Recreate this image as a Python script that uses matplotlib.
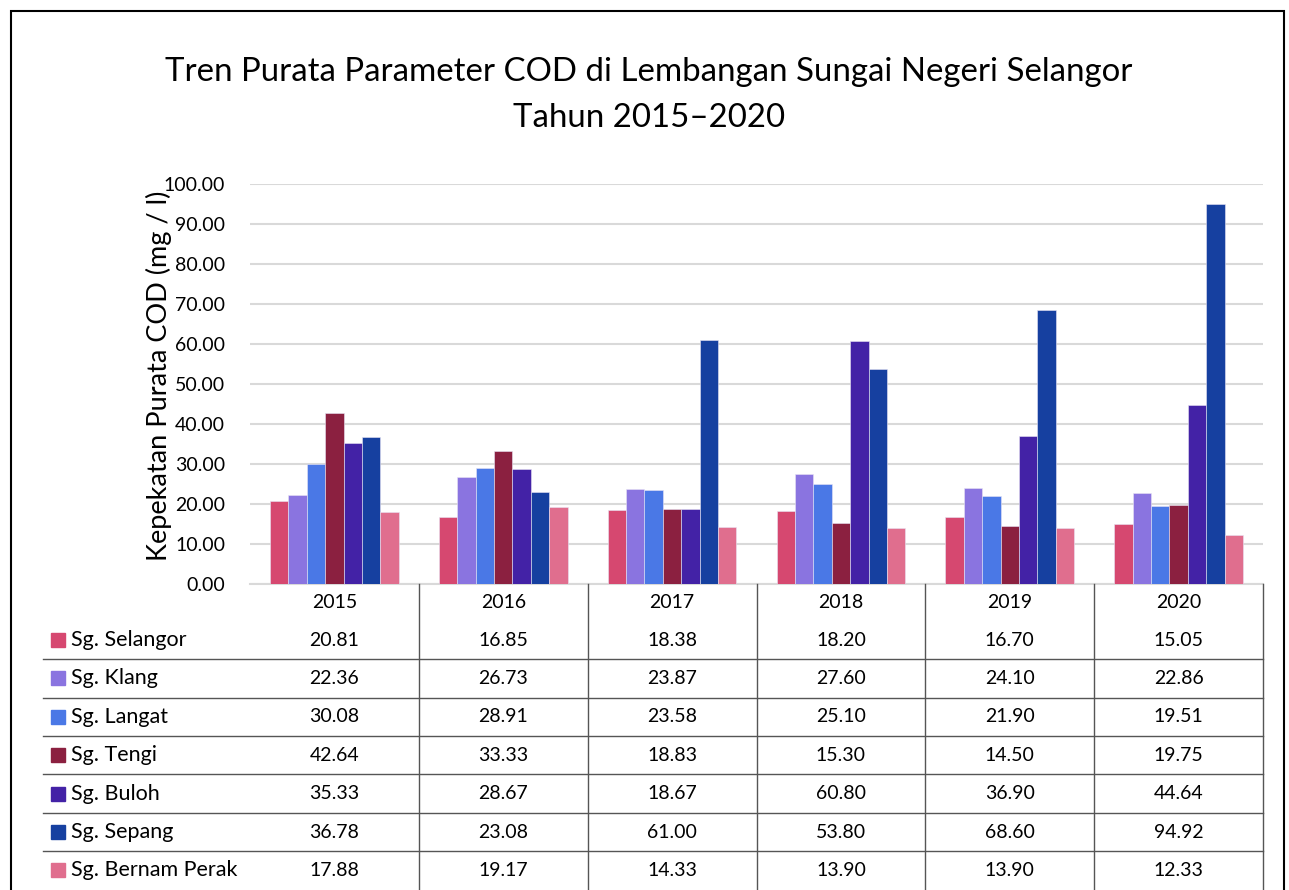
import matplotlib
matplotlib.use("Agg")
import matplotlib.pyplot as plt
import numpy as np
from matplotlib.lines import Line2D
from matplotlib.patches import Rectangle

plt.rcParams['font.family'] = ['Lato', 'DejaVu Sans']

years = ['2015', '2016', '2017', '2018', '2019', '2020']
rivers = ['Sg. Selangor', 'Sg. Klang', 'Sg. Langat', 'Sg. Tengi',
          'Sg. Buloh', 'Sg. Sepang', 'Sg. Bernam Perak']
selangor = [20.81, 16.85, 18.38, 18.20, 16.70, 15.05]
klang = [22.36, 26.73, 23.87, 27.60, 24.10, 22.86]
langat = [30.08, 28.91, 23.58, 25.10, 21.90, 19.51]
tengi = [42.64, 33.33, 18.83, 15.30, 14.50, 19.75]
buloh = [35.33, 28.67, 18.67, 60.80, 36.90, 44.64]
sepang = [36.78, 23.08, 61.00, 53.80, 68.60, 94.92]
bernam = [17.88, 19.17, 14.33, 13.90, 13.90, 12.33]
series = [selangor, klang, langat, tengi, buloh, sepang, bernam]
colors = ['#D64870', '#8A74E0', '#4A78E6', '#8B2040', '#4322A6', '#1640A0', '#E06E8E']

W, H = 1289, 890
fig = plt.figure(figsize=(W / 100, H / 100), dpi=100)


def fx(px):
    return px / W


def fy(py):
    return 1 - py / H


# outer frame
fig.add_artist(Rectangle((fx(11), fy(905)), fx(1284) - fx(11), fy(11) - fy(905),
                         fill=False, edgecolor='black', linewidth=1.5,
                         transform=fig.transFigure))

# plot area
left, right, top, bottom = 250, 1263, 184, 584
ax = fig.add_axes([fx(left), fy(bottom), fx(right) - fx(left), fy(top) - fy(bottom)])

x = np.arange(len(years))
bw = 0.109
for i, (vals, c) in enumerate(zip(series, colors)):
    ax.bar(x + (i - 3) * bw, vals, bw, color=c, edgecolor='#E8E4F4', linewidth=0.4, zorder=3)

ax.set_xlim(-0.5, len(years) - 0.5)
ax.set_ylim(0, 100)
ax.set_yticks(np.arange(0, 101, 10))
ax.set_yticklabels([f'{v:.2f}' for v in np.arange(0, 101, 10)], fontsize=14)
ax.tick_params(axis='y', length=0, pad=18)
ax.set_xticks([])
ax.grid(axis='y', color='#D9D9D9', linewidth=1.5, zorder=0)
for s in ['top', 'right', 'left']:
    ax.spines[s].set_visible(False)
ax.spines['bottom'].set_color('#D9D9D9')
ax.spines['bottom'].set_linewidth(1.5)

fig.text(fx(159), fy(376), 'Kepekatan Purata COD (mg / l)', rotation=90,
         ha='center', va='center', fontsize=19.5)

fig.text(fx(649), fy(72), 'Tren Purata Parameter COD di Lembangan Sungai Negeri Selangor',
         ha='center', va='center', fontsize=23.8)
fig.text(fx(649), fy(118), 'Tahun 2015\u20132020', ha='center', va='center', fontsize=23.8)

# data table
col_w = (right - left) / len(years)
for j, yr in enumerate(years):
    fig.text(fx(left + col_w * (j + 0.5)), fy(603), yr, ha='center', va='center', fontsize=14)
for j in range(1, len(years) + 1):
    xl = left + col_w * j
    fig.add_artist(Line2D([fx(xl), fx(xl)], [fy(584), fy(890)], color='#555555',
                          linewidth=1, transform=fig.transFigure))

row_h = 38.4
row0 = 640
for i, (name, vals, c) in enumerate(zip(rivers, series, colors)):
    yc = row0 + i * row_h
    fig.add_artist(Rectangle((fx(51), fy(yc + 7)), fx(14), fy(0) - fy(14), color=c,
                             transform=fig.transFigure))
    fig.text(fx(71), fy(yc), name, ha='left', va='center', fontsize=15.5)
    for j, v in enumerate(vals):
        fig.text(fx(left + col_w * (j + 0.5)), fy(yc), f'{v:.2f}',
                 ha='center', va='center', fontsize=14)
    if i > 0:
        yl = yc - row_h / 2
        fig.add_artist(Line2D([fx(43), fx(right)], [fy(yl), fy(yl)], color='#555555',
                              linewidth=1, transform=fig.transFigure))

fig.savefig('out.png', dpi=100)
